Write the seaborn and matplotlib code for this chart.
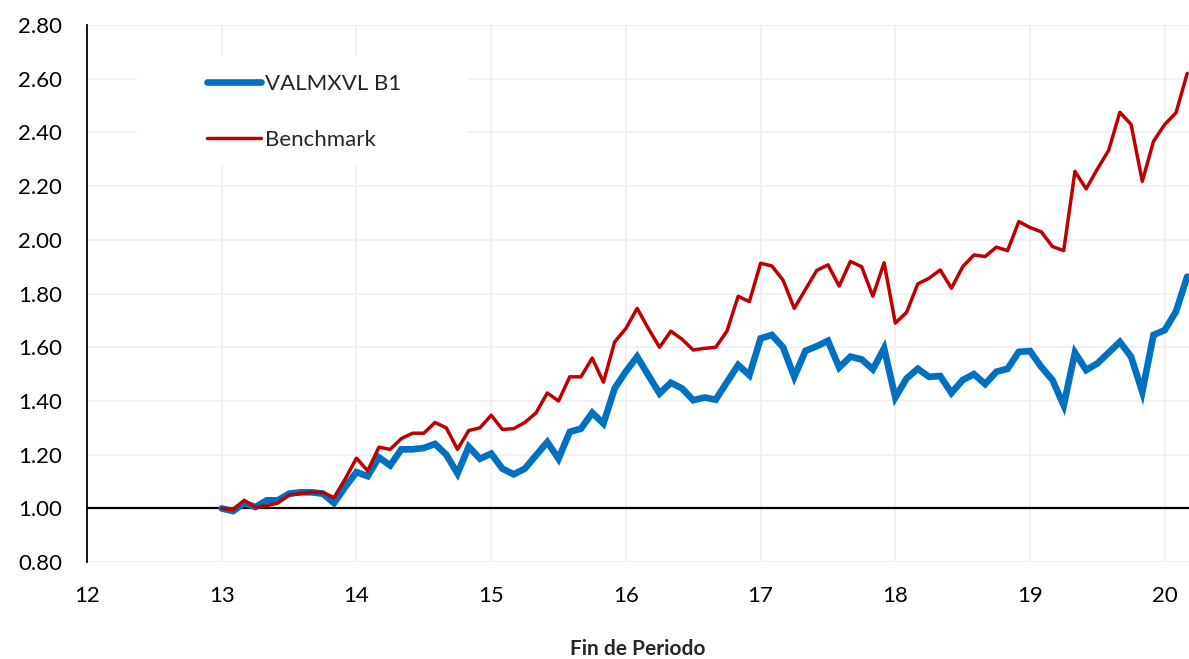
import numpy as np
import pandas as pd
import matplotlib
matplotlib.use("Agg")
import matplotlib.pyplot as plt
from matplotlib.patches import Rectangle
from matplotlib.ticker import FormatStrFormatter
import seaborn as sns

# ---- data (monthly, starting at 13.0) ----
months = list(range(87))
valmx = [1.00, 0.99, 1.02, 1.005, 1.03, 1.03, 1.055, 1.06, 1.06, 1.055, 1.02, 1.08,
         1.135, 1.12, 1.19, 1.16, 1.22, 1.22, 1.225, 1.24, 1.20, 1.13, 1.23, 1.185,
         1.204, 1.148, 1.127, 1.148, 1.198, 1.247, 1.185, 1.285, 1.297, 1.356, 1.316, 1.447,
         1.51, 1.565, 1.496, 1.428, 1.468, 1.447, 1.403, 1.413, 1.405, 1.47, 1.534, 1.496,
         1.633, 1.646, 1.60, 1.49, 1.587, 1.604, 1.624, 1.525, 1.565, 1.555, 1.518, 1.596,
         1.413, 1.484, 1.52, 1.49, 1.493, 1.43, 1.478, 1.50, 1.463, 1.509, 1.52, 1.583,
         1.586, 1.527, 1.478, 1.384, 1.58, 1.515, 1.54, 1.58, 1.62, 1.565, 1.434, 1.646,
         1.664, 1.733, 1.863]
bench = [1.00, 0.995, 1.03, 1.005, 1.01, 1.02, 1.05, 1.055, 1.06, 1.06, 1.04, 1.11,
         1.187, 1.14, 1.228, 1.22, 1.26, 1.28, 1.28, 1.32, 1.30, 1.22, 1.29, 1.30,
         1.347, 1.294, 1.297, 1.32, 1.356, 1.43, 1.40, 1.49, 1.49, 1.56, 1.47, 1.62,
         1.67, 1.745, 1.67, 1.60, 1.66, 1.63, 1.59, 1.596, 1.60, 1.66, 1.79, 1.77,
         1.913, 1.903, 1.85, 1.745, 1.816, 1.886, 1.907, 1.828, 1.92, 1.90, 1.79, 1.915,
         1.69, 1.73, 1.836, 1.857, 1.888, 1.82, 1.90, 1.944, 1.938, 1.973, 1.96, 2.068,
         2.046, 2.03, 1.975, 1.96, 2.255, 2.19, 2.264, 2.333, 2.475, 2.43, 2.218, 2.367,
         2.43, 2.473, 2.62]
series_names = ["VALMXVL B1", "Benchmark"]
x_ticks = [12, 13, 14, 15, 16, 17, 18, 19, 20]
y_ticks = [0.80, 1.00, 1.20, 1.40, 1.60, 1.80, 2.00, 2.20, 2.40, 2.60, 2.80]
x_label = "Fin de Periodo"

periodo = [13 + m / 12 for m in months]
df = pd.DataFrame({"Periodo": periodo, series_names[0]: valmx, series_names[1]: bench})

sns.set_theme(style="white")
plt.rcParams["font.family"] = ["Lato", "DejaVu Sans"]

fig = plt.figure(figsize=(11.89, 6.59), dpi=100)
ax = fig.add_axes([0.0732, 0.147, 0.9268, 0.815])

sns.lineplot(data=df, x="Periodo", y=series_names[0], ax=ax, color="#0070C0",
             linewidth=4.8, label=series_names[0], zorder=5,
             solid_capstyle="round", solid_joinstyle="miter")
sns.lineplot(data=df, x="Periodo", y=series_names[1], ax=ax, color="#C00000",
             linewidth=2.5, label=series_names[1], zorder=6)

ax.axhline(1.0, color="black", linewidth=1.6, zorder=4)

ax.set_xlim(12, 20.18)
ax.set_ylim(0.80, 2.80)
ax.set_xticks(x_ticks)
ax.set_yticks(y_ticks)
ax.yaxis.set_major_formatter(FormatStrFormatter("%.2f"))
ax.grid(True, color="#efefef", linewidth=1.2, zorder=0)
ax.set_axisbelow(True)

for s in ["top", "right", "bottom"]:
    ax.spines[s].set_visible(False)
ax.spines["left"].set_color("black")
ax.spines["left"].set_linewidth(1.3)
ax.tick_params(axis="both", length=0, labelsize=16, colors="black")
ax.tick_params(axis="y", pad=18)
ax.tick_params(axis="x", pad=17)

ax.set_xlabel(x_label, fontsize=15, fontweight="bold", labelpad=24)
ax.set_ylabel("")

# white legend background
ax.add_patch(Rectangle((0.0454, 0.739), 0.300, 0.205, transform=ax.transAxes,
                       facecolor="white", edgecolor="none", zorder=2))
leg = ax.legend(loc="upper left", bbox_to_anchor=(0.099, 0.93), frameon=False,
                fontsize=16, handlelength=2.4, handletextpad=0.2,
                labelspacing=1.62, borderpad=0)

fig.savefig("out.png", dpi=100)
